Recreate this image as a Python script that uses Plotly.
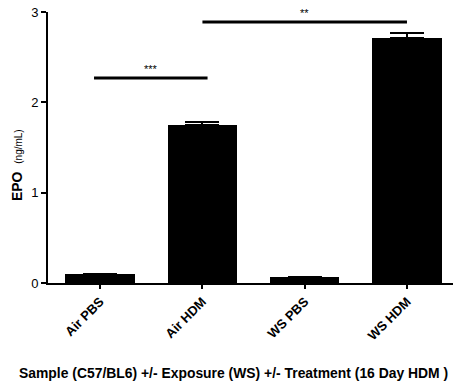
import plotly.graph_objects as go

categories = ["Air PBS", "Air HDM", "WS PBS", "WS HDM"]
epo_values = [0.10, 1.75, 0.07, 2.71]
epo_errors = [0.0, 0.03, 0.0, 0.06]

# significance comparisons: (start, end) in category index, height, label
sig_starts = [-0.06, 1.0]
sig_ends = [1.05, 3.0]
sig_heights = [2.27, 2.89]
sig_labels = ["***", "**"]

x_idx = list(range(len(categories)))

fig = go.Figure()
fig.add_trace(go.Bar(
    x=x_idx, y=epo_values, width=0.68,
    marker=dict(color="black", line=dict(width=0)),
    error_y=dict(type="data", symmetric=False, array=epo_errors,
                 arrayminus=[0] * len(epo_errors),
                 color="black", thickness=2, width=17),
    showlegend=False,
))

for s, e, h, lab in zip(sig_starts, sig_ends, sig_heights, sig_labels):
    fig.add_trace(go.Scatter(x=[s, e], y=[h, h], mode="lines",
                             line=dict(color="black", width=3),
                             showlegend=False, cliponaxis=False, hoverinfo="skip"))
    fig.add_annotation(x=(s + e) / 2, y=h, text=lab, showarrow=False,
                       yshift=9, font=dict(size=11, color="black",
                                           family="Liberation Sans"))

# y-axis title (placed slightly below centre, as in the reference)
fig.add_annotation(
    xref="paper", yref="paper", x=0, y=0.435, xshift=-31, textangle=-90,
    showarrow=False, xanchor="center", yanchor="middle",
    text="<b>EPO</b>  <span style='font-size:10px'>(ng/mL)</span>",
    font=dict(size=14, color="black"),
)

# x-axis title
fig.add_annotation(
    xref="paper", yref="paper", x=0.459, y=0, yshift=-90,
    showarrow=False, xanchor="center", yanchor="middle",
    text="<b>Sample (C57/BL6) +/- Exposure (WS) +/- Treatment (16 Day HDM )</b>",
    font=dict(size=13.9, color="black"),
)

fig.update_layout(
    width=455, height=386,
    margin=dict(l=48, r=2, t=12, b=103),
    plot_bgcolor="white", paper_bgcolor="white",
    font=dict(family="Liberation Sans, Arial, sans-serif", color="black"),
    bargap=0,
)
fig.update_xaxes(
    range=[-0.51, 3.45], tickvals=x_idx, ticktext=["<b>%s</b>" % c for c in categories],
    tickangle=-45, tickfont=dict(size=13), showline=True, linecolor="black",
    linewidth=2, ticks="outside", ticklen=4, tickwidth=2, tickcolor="black",
    showgrid=False, zeroline=False,
)
fig.update_yaxes(
    range=[0, 3], tickvals=[0, 1, 2, 3], tickfont=dict(size=13),
    showline=True, linecolor="black", linewidth=2, ticks="outside",
    ticklen=5, tickwidth=2, tickcolor="black", showgrid=False, zeroline=False,
)

fig.write_html("out.html")
